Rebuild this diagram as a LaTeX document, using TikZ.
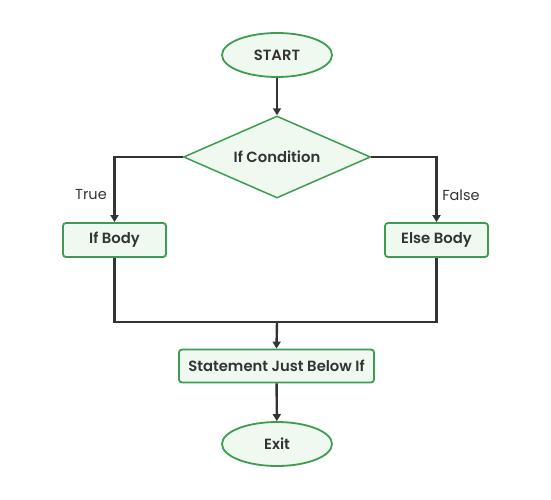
\documentclass[tikz,border=0pt]{standalone}
\usepackage{fontspec}
\setmainfont{Poppins}[BoldFont={Poppins SemiBold}]
\usetikzlibrary{arrows.meta, shapes.geometric}

\definecolor{boxgreen}{HTML}{3E9B52}
\definecolor{boxfill}{HTML}{EFF9F0}
\definecolor{linegray}{HTML}{333333}

\begin{document}
\begin{tikzpicture}[x=1pt, y=-1pt, font=\fontsize{14.8}{17}\selectfont\bfseries,
  terminal/.style={ellipse, draw=boxgreen, fill=boxfill, line width=1.8pt, minimum width=110pt, minimum height=44pt, inner sep=0pt, text=linegray},
  process/.style={rectangle, rounded corners=3pt, draw=boxgreen, fill=boxfill, line width=1.8pt, minimum height=34pt, inner sep=0pt, text=linegray},
  decision/.style={diamond, draw=boxgreen, fill=boxfill, line width=1.5pt, minimum width=187pt, minimum height=82pt, aspect=2.28, inner sep=0pt, text=linegray},
  flow/.style={draw=linegray, line width=2.4pt},
  arrow/.style={flow, -{Triangle[length=7pt, width=8pt]}},
  branch/.style={font=\fontsize{14.5}{16}\selectfont, text=linegray}]
  \useasboundingbox (0,0) rectangle (551,500);

  % Nodes
  \node[terminal] (start) at (277,55) {START};
  \node[decision] (cond) at (277,157) {If Condition};
  \node[process, minimum width=103pt] (ifbody) at (114.5,240) {If Body};
  \node[process, minimum width=103pt] (elsebody) at (436.5,240) {Else Body};
  \node[process, minimum width=195pt, minimum height=33pt] (stmt) at (276.5,366) {Statement Just Below If};
  \node[terminal] (exit) at (277,444) {Exit};
  \coordinate (join) at (277,322);

  % Branch labels
  \node[branch] (truelbl) at (91,195) {True};
  \node[branch] (falselbl) at (461,195) {False};

  % Edges
  \draw[arrow] (start) -- (cond);
  \draw[arrow] (cond.west) -| (ifbody.north);
  \draw[arrow] (cond.east) -| (elsebody.north);
  \draw[flow] (ifbody.south) |- (join) -| (elsebody.south);
  \draw[arrow] (join) -- (stmt.north);
  \draw[arrow] (stmt) -- (exit);
\end{tikzpicture}
\end{document}
